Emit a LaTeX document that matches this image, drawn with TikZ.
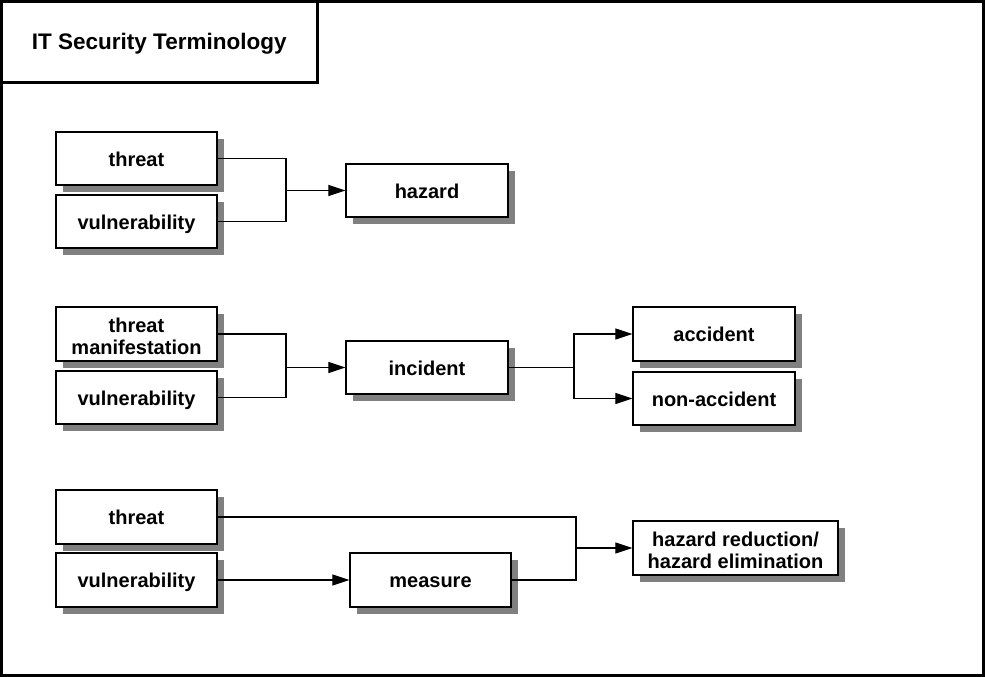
\documentclass[tikz,border=0pt]{standalone}
\usepackage{fontspec}
\setmainfont{Liberation Sans}
\usetikzlibrary{arrows.meta,shadows}
\begin{document}
\begin{tikzpicture}[x=1pt,y=-1pt,
  box/.style={draw=black, line width=1.2pt, fill=white, rectangle, inner sep=0pt,
    minimum width=161pt, minimum height=53pt, align=center,
    font=\fontsize{20}{22}\selectfont\bfseries,
    drop shadow={shadow xshift=7pt, shadow yshift=-7pt, fill=black!50, opacity=1}},
  one/.style={text height=15.5pt, text depth=0pt},
  conn/.style={line width=1.1pt},
  arr/.style={conn, -{Triangle[length=17pt,width=11pt]}}]
\useasboundingbox (0,0) rectangle (985,677);
\draw[line width=3pt] (1.5,1.5) rectangle (983,675);
\node[draw, line width=3pt, minimum width=315.5pt, minimum height=80.5pt, inner sep=0pt,
  text height=15.5pt, text depth=0pt,
  font=\fontsize{22.5}{26}\selectfont\bfseries] (title) at (159.25,41.75) {IT Security Terminology};
% row 1
\node[box, one] (t1) at (136.5,158.5) {threat};
\node[box, one] (v1) at (136.5,221.5) {vulnerability};
\node[box, one, minimum width=162pt] (hz) at (427,190.5) {hazard};
\coordinate (j1) at (286,190.5);
\draw[conn] (t1.east) -| (j1) |- (v1.east);
\draw[arr] (j1) -- (hz.west);
% row 2
\node[box, minimum height=54pt] (tm) at (136.5,334) {\rule{0pt}{18.6pt}threat\\manifestation};
\node[box, one] (v2) at (136.5,397.5) {vulnerability};
\node[box, one, minimum width=162pt] (inc) at (427,367.5) {incident};
\node[box, one, minimum width=162pt, minimum height=54pt] (acc) at (714,334) {accident};
\node[box, one, minimum width=162pt] (nacc) at (714,398.5) {non-accident};
\coordinate (j2) at (286,367.5);
\coordinate (s2) at (574,367.5);
\draw[conn] (tm.east) -| (j2) |- (v2.east);
\draw[arr] (j2) -- (inc.west);
\draw[conn] (inc.east) -- (s2);
\draw[arr] (s2) |- (acc.west);
\draw[arr] (s2) |- (nacc.west);
% row 3
\node[box, one, minimum height=54pt] (t3) at (136.5,517) {threat};
\node[box, one, minimum height=54pt] (v3) at (136.5,580) {vulnerability};
\node[box, one, minimum height=54pt] (meas) at (430.5,580) {measure};
\node[box, minimum width=205pt, minimum height=54pt] (hr) at (735.5,548) {\rule{0pt}{18.6pt}hazard reduction/\\hazard elimination};
\coordinate (j3) at (576,548);
\draw[conn] (t3.east) -| (j3) |- (meas.east);
\draw[arr] (j3) -- (hr.west);
\draw[arr] (v3.east) -- (meas.west);
\end{tikzpicture}
\end{document}
